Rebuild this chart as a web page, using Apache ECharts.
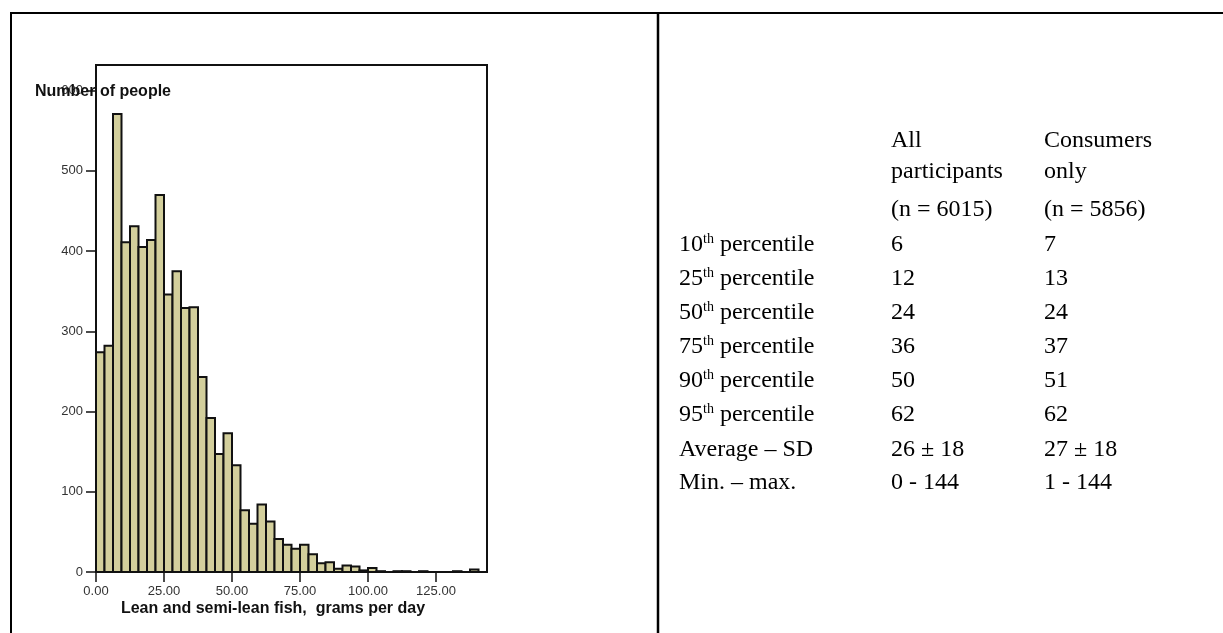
<!DOCTYPE html>
<html><head><meta charset="utf-8">
<script src="https://cdn.jsdelivr.net/npm/echarts@6/dist/echarts.min.js"></script>
<style>html,body{margin:0;padding:0;background:#fff}#c{width:1223px;height:633px}</style>
</head><body><div id="c"></div>
<script>
// ---- data ----
const binWidth = 3.125;
const counts = [274,282,571,411,431,405,414,470,346,375,
                329,330,243,192,147,173,133,77,60,84,
                63,41,34,29,34,22,11,12,4,8,
                7,2,5,1,0,1,1,0,1,0,
                0,0,1,0,3,0];
const yTicks = [0,100,200,300,400,500,600];
const xTicks = [0,25,50,75,100,125];
const yTitle = 'Number of people';
const xTitle = 'Lean and semi-lean fish,  grams per day';
const percentileOrdinals = ['10','25','50','75','90','95'];
const otherRowLabels = ['Average – SD','Min. – max.'];
const allParticipants = ['6','12','24','36','50','62','26 ± 18','0 - 144'];
const consumersOnly = ['7','13','24','37','51','62','27 ± 18','1 - 144'];
const headerAll = ['All','participants','(n = 6015)'];
const headerCons = ['Consumers','only','(n = 5856)'];

// ---- layout ----
const chart = echarts.init(document.getElementById('c'), null, {renderer:'canvas'});
const bins = counts.map((c,i)=>[i*binWidth,(i+1)*binWidth,c]);
const sans = 'Liberation Sans, Arial, sans-serif';
const serif = 'Liberation Serif, Times New Roman, serif';
const tFont = 24;
const headerY = [141,172,210];
const rowY = [245,279,313,347,381,415,450,483];
const colX = [679,891,1044];

const graphics = [];
graphics.push({type:'line',shape:{x1:10,y1:13,x2:1223,y2:13},style:{stroke:'#000',lineWidth:2},z:50});
graphics.push({type:'line',shape:{x1:11,y1:12,x2:11,y2:633},style:{stroke:'#000',lineWidth:2},z:50});
graphics.push({type:'line',shape:{x1:658,y1:12,x2:658,y2:633},style:{stroke:'#000',lineWidth:2.5},z:50});
graphics.push({type:'text',x:35,y:92,z:100,style:{text:yTitle,font:'bold 16px '+sans,fill:'#111',textVerticalAlign:'middle',textAlign:'left'}});
graphics.push({type:'text',x:273,y:609,z:100,style:{text:xTitle,font:'bold 16px '+sans,fill:'#111',textVerticalAlign:'middle',textAlign:'center'}});
headerAll.forEach((t,i)=>graphics.push({type:'text',x:colX[1],y:headerY[i],style:{text:t,font:tFont+'px '+serif,fill:'#000',textVerticalAlign:'middle'}}));
headerCons.forEach((t,i)=>graphics.push({type:'text',x:colX[2],y:headerY[i],style:{text:t,font:tFont+'px '+serif,fill:'#000',textVerticalAlign:'middle'}}));
const richStyle = {
  n:{fontSize:tFont,fontFamily:serif,color:'#000',lineHeight:26},
  s:{fontSize:14,fontFamily:serif,color:'#000',verticalAlign:'top',lineHeight:14}
};
percentileOrdinals.forEach((o,i)=>{
  graphics.push({type:'text',x:colX[0],y:rowY[i],style:{text:'{n|'+o+'}{s|th}{n| percentile}',rich:richStyle,textVerticalAlign:'middle'}});
});
otherRowLabels.forEach((t,j)=>{
  graphics.push({type:'text',x:colX[0],y:rowY[6+j],style:{text:t,font:tFont+'px '+serif,fill:'#000',textVerticalAlign:'middle'}});
});
allParticipants.forEach((t,i)=>graphics.push({type:'text',x:colX[1],y:rowY[i],style:{text:t,font:tFont+'px '+serif,fill:'#000',textVerticalAlign:'middle'}}));
consumersOnly.forEach((t,i)=>graphics.push({type:'text',x:colX[2],y:rowY[i],style:{text:t,font:tFont+'px '+serif,fill:'#000',textVerticalAlign:'middle'}}));

const option = {
  backgroundColor:'#fff',
  animation:false,
  grid:{left:96,top:65,right:736,bottom:61,show:true,borderColor:'#111',borderWidth:2,backgroundColor:'transparent'},
  xAxis:{type:'value',min:0,max:counts.length*binWidth,
    axisLine:{show:true,lineStyle:{color:'#111',width:2}},
    axisTick:{show:true,length:10,customValues:xTicks,lineStyle:{color:'#111',width:1.5}},
    axisLabel:{customValues:xTicks,formatter:v=>v.toFixed(2),fontFamily:sans,fontSize:13,color:'#333',margin:13},
    splitLine:{show:false}},
  yAxis:{type:'value',min:0,max:632,
    axisLine:{show:true,lineStyle:{color:'#111',width:2}},
    axisTick:{show:true,length:10,customValues:yTicks,lineStyle:{color:'#111',width:1.5}},
    axisLabel:{customValues:yTicks,fontFamily:sans,fontSize:13,color:'#333',margin:13},
    splitLine:{show:false}},
  series:[{
    type:'custom',
    data:bins,
    renderItem:(params,api)=>{
      const c = api.value(2);
      if (!c) return null;
      const p0 = api.coord([api.value(0),c]);
      const p1 = api.coord([api.value(1),0]);
      return {type:'rect',shape:{x:p0[0],y:p0[1],width:p1[0]-p0[0],height:p1[1]-p0[1]},
        style:{fill:'#d3cf9c',stroke:'#111',lineWidth:2}};
    },
    encode:{x:[0,1],y:2}
  }],
  graphic:graphics
};
chart.setOption(option);
</script></body></html>
